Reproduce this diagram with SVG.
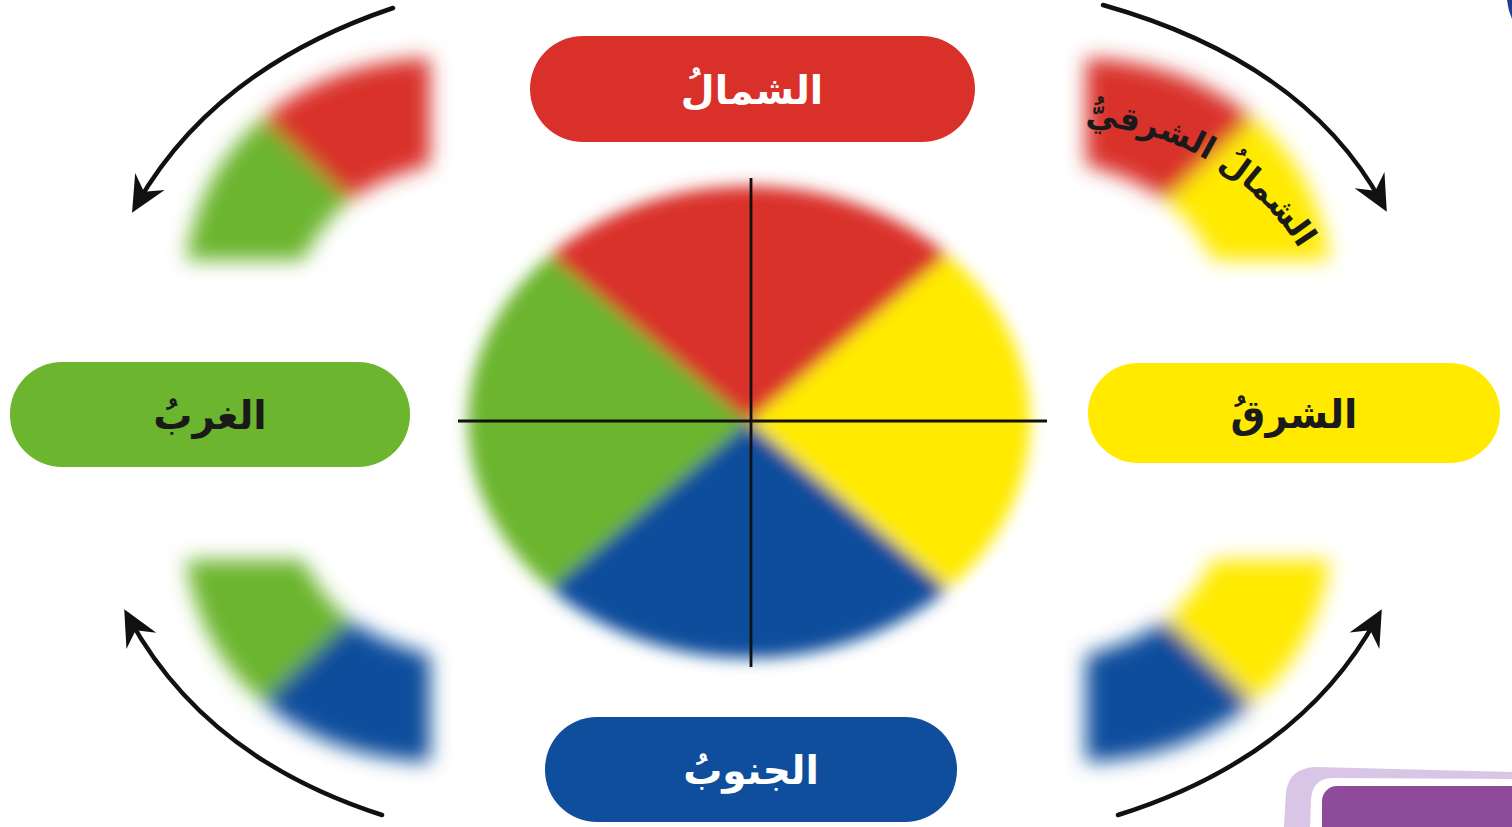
<svg xmlns="http://www.w3.org/2000/svg" xmlns:xlink="http://www.w3.org/1999/xlink" width="1512" height="827" viewBox="0 0 1512 827">
  <style>
    .pill-text { font-family: "DejaVu Sans", "Noto Sans", sans-serif; font-weight: bold; font-size: 39px; text-anchor: middle; }
    .arc-text { font-family: "DejaVu Sans", "Noto Sans", sans-serif; font-weight: bold; font-size: 32px; fill: #1a1a1a; }
    .conn { fill: none; stroke: #111; stroke-width: 4.5; stroke-linecap: round; }
    .axis { stroke: #111; stroke-width: 2.8; }
    .red { fill: #d9302a; }
    .yellow { fill: #ffea00; }
    .blue { fill: #0f4e9c; }
    .green { fill: #6cb52f; }
  </style>
  <defs>
    <filter id="blurBig" x="-20%" y="-20%" width="140%" height="140%">
      <feGaussianBlur stdDeviation="8"/>
    </filter>
    <filter id="blurFrag" x="-30%" y="-30%" width="160%" height="160%">
      <feGaussianBlur stdDeviation="10"/>
    </filter>
    <marker id="arrow" markerUnits="userSpaceOnUse" markerWidth="50" markerHeight="50" refX="0" refY="0" viewBox="-35 -25 50 50" orient="auto" overflow="visible">
      <path d="M10,0 L-26,-17 L-14,0 L-26,17 Z" fill="#111"/>
    </marker>
    <path id="neArc" d="M1075,125 A265,265 0 0 1 1304.5,257.5"/>
  </defs>

  <rect width="1512" height="827" fill="#ffffff"/>

  <!-- central wheel -->
  <g id="wheel" filter="url(#blurBig)">
    <path class="red" d="M749,422 L550.3,255.1 A281,236 0 0 1 947.7,255.1 Z"/>
    <path class="yellow" d="M749,422 L947.7,255.1 A281,236 0 0 1 947.7,588.9 Z"/>
    <path class="blue" d="M749,422 L947.7,588.9 A281,236 0 0 1 550.3,588.9 Z"/>
    <path class="green" d="M749,422 L550.3,588.9 A281,236 0 0 1 550.3,255.1 Z"/>
  </g>
  <g id="axes">
    <line class="axis" x1="751" y1="178" x2="751" y2="667"/>
    <line class="axis" x1="458" y1="421" x2="1047" y2="421"/>
  </g>

  <!-- intermediate direction fragments -->
  <g id="frag-nw" filter="url(#blurFrag)">
    <path class="red" d="M263,118 Q330,62 430,58 L430,165 Q380,178 350,200 Z"/>
    <path class="green" d="M263,118 L350,200 Q320,225 303,260 L186,260 Q200,170 263,118 Z"/>
  </g>
  <g id="frag-ne" filter="url(#blurFrag)" transform="translate(1516,0) scale(-1,1)">
    <path class="red" d="M263,118 Q330,62 430,58 L430,165 Q380,178 350,200 Z"/>
    <path class="yellow" d="M263,118 L350,200 Q320,225 303,260 L186,260 Q200,170 263,118 Z"/>
  </g>
  <g id="frag-sw" filter="url(#blurFrag)" transform="translate(0,820) scale(1,-1)">
    <path class="blue" d="M263,118 Q330,62 430,58 L430,165 Q380,178 350,200 Z"/>
    <path class="green" d="M263,118 L350,200 Q320,225 303,260 L186,260 Q200,170 263,118 Z"/>
  </g>
  <g id="frag-se" filter="url(#blurFrag)" transform="translate(1516,820) scale(-1,-1)">
    <path class="blue" d="M263,118 Q330,62 430,58 L430,165 Q380,178 350,200 Z"/>
    <path class="yellow" d="M263,118 L350,200 Q320,225 303,260 L186,260 Q200,170 263,118 Z"/>
  </g>

  <g id="label-ne">
    <text class="arc-text"><textPath xlink:href="#neArc" href="#neArc" startOffset="50%" text-anchor="middle">الشمالُ الشرقيُّ</textPath></text>
  </g>

  <!-- cardinal pills -->
  <g id="north">
    <rect x="530" y="36" width="445" height="106" rx="53" class="red"/>
    <text class="pill-text" x="752" y="104" fill="#ffffff">الشمالُ</text>
  </g>
  <g id="west">
    <rect x="10" y="362" width="400" height="105" rx="52" class="green"/>
    <text class="pill-text" x="210" y="429" fill="#1a1a1a">الغربُ</text>
  </g>
  <g id="east">
    <rect x="1088" y="363" width="412" height="100" rx="50" class="yellow"/>
    <text class="pill-text" x="1294" y="428" fill="#1a1a1a">الشرقُ</text>
  </g>
  <g id="south">
    <rect x="545" y="717" width="412" height="105" rx="52" class="blue"/>
    <text class="pill-text" x="751" y="784" fill="#ffffff">الجنوبُ</text>
  </g>

  <!-- connectors -->
  <g id="connectors">
    <path class="conn" d="M393,8 Q215,68 137,204" marker-end="url(#arrow)"/>
    <path class="conn" d="M1103,5 Q1305,62 1382,203" marker-end="url(#arrow)"/>
    <path class="conn" d="M382,815 Q205,758 129,618" marker-end="url(#arrow)"/>
    <path class="conn" d="M1118,815 Q1300,758 1377,618" marker-end="url(#arrow)"/>
  </g>

  <!-- corner decorations -->
  <g id="corner-tab">
    <path d="M1284,827 L1286,792 Q1289,768 1316,767 L1512,772 L1512,779 L1332,778 Q1312,779 1311,800 L1310,827 Z" fill="#d9c6e6"/>
    <rect x="1322" y="786" width="220" height="70" rx="15" fill="#8e4b9a"/>
  </g>
  <path d="M1507,0 Q1508,10 1512,19 L1512,0 Z" fill="#1d3f8f"/>
</svg>
